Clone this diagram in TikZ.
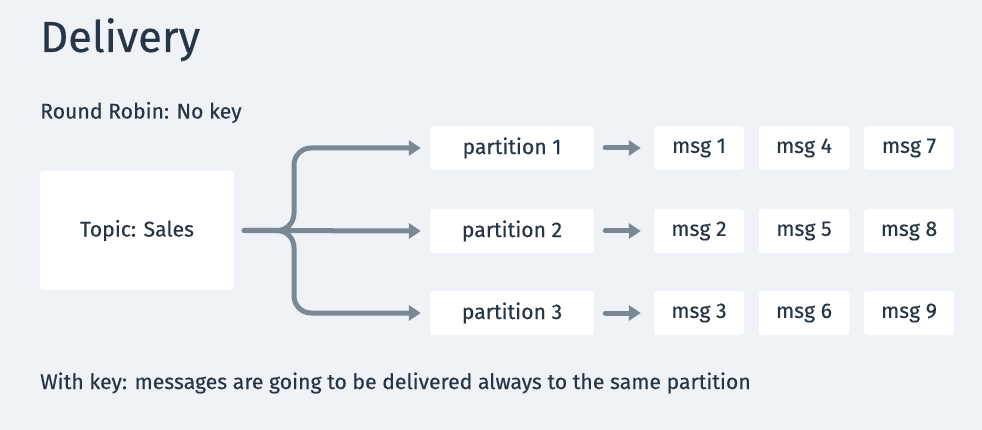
\documentclass[tikz,border=0pt]{standalone}
\usepackage{fontspec}
\setmainfont{Fira Sans}[FakeBold=0.35]
\usetikzlibrary{arrows.meta}
\definecolor{bg}{HTML}{EFF3F7}
\definecolor{ink}{HTML}{263646}
\definecolor{arr}{HTML}{7A8896}
\tikzset{
  box/.style={fill=white, rounded corners=3pt, inner sep=0pt, text=ink, font=\fontsize{21.2}{25}\selectfont},
  pbox/.style={box, minimum width=164pt, minimum height=44pt},
  mbox/.style={box, minimum width=90pt, minimum height=44pt},
  flow/.style={draw=arr, line width=5pt, -{Triangle[length=12pt,width=15pt]}},
  lbl/.style={anchor=base west, inner sep=0pt, text=ink}
}
\begin{document}
\begin{tikzpicture}[x=1pt,y=-1pt]
\fill[bg] (0,0) rectangle (982,430);
\useasboundingbox (0,0) rectangle (982,430);
\node[lbl, font=\fontsize{43.5}{48}\selectfont] (title) at (40,52) {Delivery};
\node[lbl, font=\fontsize{21.2}{25}\selectfont] (rr) at (40,118.5) {Round Robin: No key};
\node[lbl, font=\fontsize{21.2}{25}\selectfont] (wk) at (40,389) {With key: messages are going to be delivered always to the same partition};
\node[box, minimum width=194pt, minimum height=119pt] (topic) at (137,230.5) {Topic: Sales};
\foreach \i/\y in {1/148,2/231,3/313}{
  \node[pbox] (p\i) at (512,\y) {partition \i};
}
\node[mbox] (m1) at (699,148) {msg 1};
\node[mbox] (m4) at (804,148) {msg 4};
\node[mbox] (m7) at (909,148) {msg 7};
\node[mbox] (m2) at (699,231) {msg 2};
\node[mbox] (m5) at (804,231) {msg 5};
\node[mbox] (m8) at (909,231) {msg 8};
\node[mbox] (m3) at (699,313) {msg 3};
\node[mbox] (m6) at (804,313) {msg 6};
\node[mbox] (m9) at (909,313) {msg 9};
% fork
\coordinate (s) at ([xshift=10pt]topic.east);
\draw[flow, line cap=round] (s) -- ([xshift=-9pt]p2.west);
\draw[flow, line cap=round, rounded corners=17pt] (s) -| (294,148) -- ([xshift=-9pt]p1.west);
\draw[flow, line cap=round, rounded corners=17pt] (s) -| (294,313) -- ([xshift=-9pt]p3.west);
\foreach \i/\m in {1/m1,2/m2,3/m3}{
  \draw[flow, line cap=round] ([xshift=11pt]p\i.east) -- ([xshift=-13pt]\m.west);
}
\end{tikzpicture}
\end{document}
